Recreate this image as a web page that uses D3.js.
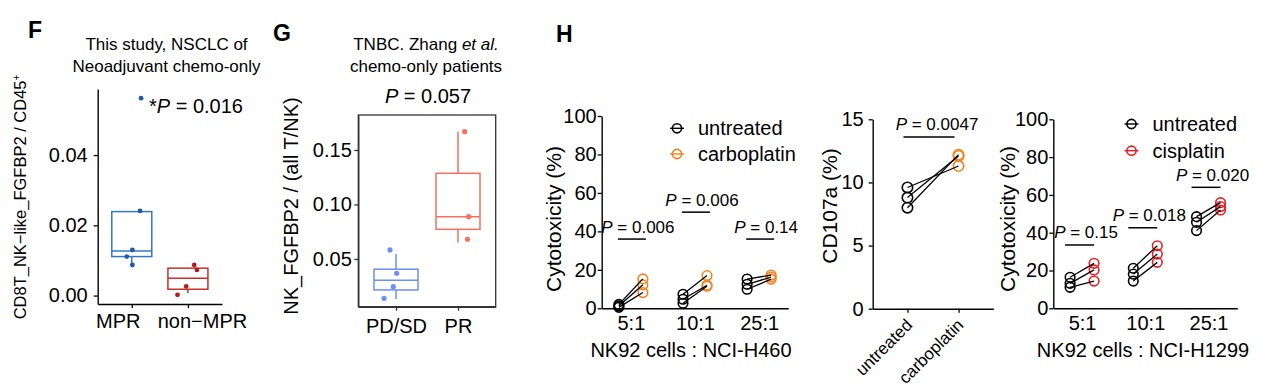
<!DOCTYPE html>
<html>
<head>
<meta charset="utf-8">
<script src="https://cdn.jsdelivr.net/npm/d3@7"></script>
<style>
  body { margin: 0; background: #fff; }
  svg { display: block; }
  text { font-family: "Liberation Sans", Arial, sans-serif; fill: #000; }
</style>
</head>
<body>
<svg width="1263" height="392"></svg>
<script>
// ---- data ----
// F: box stats are [lower whisker, Q1, median, Q3, upper whisker]
var fGroups = ['MPR', 'non\u2212MPR'];
var fBoxStats = [[0.0087, 0.0111, 0.0127, 0.0239, 0.0239], [0.0007, 0.0018, 0.0049, 0.0078, 0.0078]];
var fPoints = [[0.0241, 0.0130, 0.0111, 0.0087, 0.0562], [0.0087, 0.0073, 0.0026, 0.0002]];
var fTicks = [0, 0.02, 0.04];

// G
var gGroups = ['PD/SD', 'PR'];
var gBoxStats = [[0.0133, 0.0216, 0.0305, 0.0406, 0.0546], [0.0650, 0.0772, 0.0888, 0.1286, 0.1668]];
var gPoints = [[0.0583, 0.0369, 0.0246, 0.0139], [0.1668, 0.0888, 0.0681]];
var gTicks = [0.05, 0.10, 0.15];

// H, NCI-H460 cytotoxicity
var ratios = ['5:1', '10:1', '25:1'];
var h460Untreated = [[2.0, 1.2, 0.5], [7.3, 4.7, 2.6], [15.2, 12.5, 9.9]];
var h460Carbo = [[15.3, 12.2, 8.2], [17.0, 12.0, 11.5], [17.3, 16.2, 15.1]];
var h460P = ['0.006', '0.006', '0.14'];
var h460Bar = [36, 50, 36];

// H, CD107a
var cdGroups = ['untreated', 'carboplatin'];
var cdUntreated = [9.6, 8.8, 8.0];
var cdCarbo = [11.3, 12.1, 12.2];
var cdP = '0.0047';
var cdBar = 13.6;
var cdTicks = [0, 5, 10, 15];

// H, NCI-H1299 cytotoxicity
var h1299Untreated = [[16.4, 13.2, 11.1], [21.2, 18.1, 14.4], [48.5, 45.5, 41.1]];
var h1299Cis = [[23.8, 20.3, 14.4], [33.1, 28.7, 24.3], [55.9, 53.8, 52.0]];
var h1299P = ['0.15', '0.018', '0.020'];
var h1299Bar = [33.5, 42.6, 64];
var cytoTicks = [0, 20, 40, 60, 80, 100];

var ORANGE = '#f5821f', RED = '#ec1c24';

const svg = d3.select('svg');

function styleAxis(a, size, color) {
  a.select('.domain').attr('stroke', color || '#000').attr('stroke-width', 1.4);
  a.selectAll('.tick line').attr('stroke', color || '#000').attr('stroke-width', 1.3);
  a.selectAll('.tick text').style('font-size', size + 'px')
    .style('font-family', '"Liberation Sans", Arial, sans-serif').attr('fill', '#000');
}

function label(x, y, txt, size, opts) {
  opts = opts || {};
  var t = svg.append('text').attr('x', x).attr('y', y).text(txt)
    .style('font-size', size + 'px')
    .attr('text-anchor', opts.anchor || 'middle');
  if (opts.bold) t.style('font-weight', 'bold');
  return t;
}

function pText(x, y, prefix, val, size) {
  var t = svg.append('text').attr('x', x).attr('y', y)
    .attr('text-anchor', 'middle').style('font-size', size + 'px');
  if (prefix) t.append('tspan').text(prefix);
  t.append('tspan').style('font-style', 'italic').text('P');
  t.append('tspan').text(' = ' + val);
  return t;
}

function yTitle(x, y, txt, size) {
  return svg.append('text').attr('transform', 'translate(' + x + ',' + y + ') rotate(-90)')
    .attr('text-anchor', 'middle').style('font-size', size + 'px').text(txt);
}

function drawBox(g, cx, y, stats, pts, jit, boxCol, dotCol, w, r) {
  g.append('line').attr('x1', cx).attr('x2', cx).attr('y1', y(stats[0])).attr('y2', y(stats[1]))
    .attr('stroke', boxCol).attr('stroke-width', 1.5);
  g.append('line').attr('x1', cx).attr('x2', cx).attr('y1', y(stats[3])).attr('y2', y(stats[4]))
    .attr('stroke', boxCol).attr('stroke-width', 1.5);
  g.append('rect').attr('x', cx - w / 2).attr('width', w)
    .attr('y', y(stats[3])).attr('height', y(stats[1]) - y(stats[3]))
    .attr('fill', 'none').attr('stroke', boxCol).attr('stroke-width', 1.5);
  g.append('line').attr('x1', cx - w / 2).attr('x2', cx + w / 2)
    .attr('y1', y(stats[2])).attr('y2', y(stats[2]))
    .attr('stroke', boxCol).attr('stroke-width', 1.5);
  g.selectAll(null).data(pts).enter().append('circle')
    .attr('cx', (d, i) => cx + jit[i]).attr('cy', d => y(d))
    .attr('r', r).attr('fill', dotCol);
}

// ---------------- F ----------------
label(28, 38, 'F', 23, { anchor: 'start', bold: true });
label(166.5, 50, 'This study, NSCLC of', 17);
label(166.5, 71.5, 'Neoadjuvant chemo-only', 17);

var fx = d3.scalePoint().domain(fGroups).range([97.7, 222]).padding(0.607);
var fy = d3.scaleLinear().domain([-0.0024, 0.0588]).range([304, 89]);

var fg = svg.append('g');
var fJitter = [[8.3, 0.6, -5, 0.6, 9.3], [6.3, 9, -1.7, -10.4]];
drawBox(fg, fx(fGroups[0]), fy, fBoxStats[0], fPoints[0], fJitter[0], '#3478c8', '#1c5ca6', 40, 2.4);
drawBox(fg, fx(fGroups[1]), fy, fBoxStats[1], fPoints[1], fJitter[1], '#c8302c', '#b01c1c', 40, 2.4);

var fyAxis = svg.append('g').attr('transform', 'translate(97.7,0)')
  .call(d3.axisLeft(fy).tickValues(fTicks).tickFormat(d3.format('.2f')).tickSize(4).tickPadding(6).tickSizeOuter(0));
styleAxis(fyAxis, 20);
var fxAxis = svg.append('g').attr('transform', 'translate(0,304)')
  .call(d3.axisBottom(fx).tickSize(4).tickPadding(6).tickSizeOuter(0));
styleAxis(fxAxis, 20);
fxAxis.selectAll('.tick text').attr('dx', (d, i) => i ? 14 : -14);

pText(196, 113, '*', '0.016', 20);
var ft = svg.append('text').attr('transform', 'translate(26,197) rotate(-90)')
  .attr('text-anchor', 'middle').style('font-size', '16.5px');
ft.append('tspan').text('CD8T_NK\u2212like_FGFBP2 / CD45');
ft.append('tspan').attr('dy', -6).style('font-size', '10px').text('+');

// ---------------- G ----------------
label(273, 41, 'G', 23, { anchor: 'start', bold: true });
var gt = svg.append('text').attr('x', 426).attr('y', 50).attr('text-anchor', 'middle').style('font-size', '17px');
gt.append('tspan').text('TNBC. Zhang ');
gt.append('tspan').style('font-style', 'italic').text('et al.');
label(426, 71.5, 'chemo-only patients', 17);
pText(428, 103.3, '', '0.057', 20);

var gx = d3.scalePoint().domain(gGroups).range([358.3, 495.7]).padding(0.608);
var gy = d3.scaleLinear().domain([0.0062, 0.1821]).range([306.7, 115]);
var gg = svg.append('g');
var gJitter = [[-6, 0.7, -2.7, -12], [6.7, 10.7, 9.4]];
drawBox(gg, gx(gGroups[0]), gy, gBoxStats[0], gPoints[0], gJitter[0], '#6c8ff2', '#6c8ff2', 44, 2.6);
drawBox(gg, gx(gGroups[1]), gy, gBoxStats[1], gPoints[1], gJitter[1], '#f5705e', '#f5705e', 44, 2.6);

var gyAxis = svg.append('g').attr('transform', 'translate(358.3,0)')
  .call(d3.axisLeft(gy).tickValues(gTicks).tickFormat(d3.format('.2f')).tickSize(4).tickPadding(2.5).tickSizeOuter(0));
styleAxis(gyAxis, 20, '#333');
var gxAxis = svg.append('g').attr('transform', 'translate(0,306.7)')
  .call(d3.axisBottom(gx).tickSize(4).tickPadding(8).tickSizeOuter(0));
styleAxis(gxAxis, 20, '#333');
svg.append('rect').attr('x', 358.3).attr('y', 115).attr('width', 137.4).attr('height', 191.7)
  .attr('fill', 'none').attr('stroke', '#333').attr('stroke-width', 1.3);
yTitle(298, 206, 'NK_FGFBP2 / (all T/NK)', 20);

// ---------------- H ----------------
label(556, 42, 'H', 23, { anchor: 'start', bold: true });

function legendItem(x, y, txt, col) {
  svg.append('line').attr('x1', x - 7).attr('x2', x + 7).attr('y1', y).attr('y2', y)
    .attr('stroke', col).attr('stroke-width', 1.4);
  svg.append('circle').attr('cx', x).attr('cy', y).attr('r', 4.6)
    .attr('fill', 'none').attr('stroke', col).attr('stroke-width', 1.6);
  label(x + 21, y + 7, txt, 20, { anchor: 'start' });
}

function pairPanel(x0, x1, yTop, yBot, before, after, col, pVals, bars, barL, barR, textDx) {
  var x = d3.scalePoint().domain(ratios).range([x0, x1]).padding(0.455);
  var y = d3.scaleLinear().domain([0, 100]).range([yBot, yTop]);
  var g = svg.append('g');
  ratios.forEach(function(r, i) {
    var cx = x(r);
    before[i].forEach(function(v) {
      g.append('circle').attr('cx', cx - 12).attr('cy', y(v)).attr('r', 4.8)
        .attr('fill', 'none').attr('stroke', '#000').attr('stroke-width', 1.6);
    });
    after[i].forEach(function(v) {
      g.append('circle').attr('cx', cx + 12).attr('cy', y(v)).attr('r', 4.8)
        .attr('fill', 'none').attr('stroke', col).attr('stroke-width', 1.6);
    });
    before[i].forEach(function(v, j) {
      g.append('line').attr('x1', cx - 12).attr('x2', cx + 12)
        .attr('y1', y(v)).attr('y2', y(after[i][j]))
        .attr('stroke', '#000').attr('stroke-width', 1.3);
    });
    g.append('line').attr('x1', cx + barL).attr('x2', cx + barR)
      .attr('y1', y(bars[i])).attr('y2', y(bars[i]))
      .attr('stroke', '#000').attr('stroke-width', 1.5);
    pText(cx + textDx, y(bars[i]) - 6.5, '', pVals[i], 17);
  });
  var ya = svg.append('g').attr('transform', 'translate(' + x0 + ',0)')
    .call(d3.axisLeft(y).tickValues(cytoTicks).tickSize(4).tickPadding(1).tickSizeOuter(0));
  styleAxis(ya, 20);
  var xa = svg.append('g').attr('transform', 'translate(0,' + yBot + ')')
    .call(d3.axisBottom(x).tickSize(0).tickPadding(7.5).tickSizeOuter(0));
  styleAxis(xa, 20);
}

// NCI-H460
pairPanel(601.7, 788.3, 116, 308.3, h460Untreated, h460Carbo, ORANGE, h460P, h460Bar, -13, 15, 7);
yTitle(561, 219, 'Cytotoxicity (%)', 21);
label(691, 356.5, 'NK92 cells : NCI-H460', 20);
legendItem(677, 128.3, 'untreated', '#000');
legendItem(677, 154, 'carboplatin', ORANGE);

// CD107a
var cx2 = d3.scalePoint().domain(cdGroups).range([872.7, 993.3]).padding(0.68);
var cy2 = d3.scaleLinear().domain([0, 15]).range([308.7, 119.3]);
var cg = svg.append('g');
cdUntreated.forEach(function(v) {
  cg.append('circle').attr('cx', cx2(cdGroups[0])).attr('cy', cy2(v)).attr('r', 5.2)
    .attr('fill', 'none').attr('stroke', '#000').attr('stroke-width', 1.6);
});
cdCarbo.forEach(function(v) {
  cg.append('circle').attr('cx', cx2(cdGroups[1])).attr('cy', cy2(v)).attr('r', 5.2)
    .attr('fill', 'none').attr('stroke', ORANGE).attr('stroke-width', 1.6);
});
cdUntreated.forEach(function(v, i) {
  cg.append('line').attr('x1', cx2(cdGroups[0])).attr('x2', cx2(cdGroups[1]))
    .attr('y1', cy2(v)).attr('y2', cy2(cdCarbo[i]))
    .attr('stroke', '#000').attr('stroke-width', 1.3);
});
cg.append('line').attr('x1', cx2(cdGroups[0]) - 4).attr('x2', cx2(cdGroups[1]) - 4)
  .attr('y1', cy2(cdBar)).attr('y2', cy2(cdBar)).attr('stroke', '#000').attr('stroke-width', 1.5);
pText(937, cy2(cdBar) - 6.5, '', cdP, 17);
var ya2 = svg.append('g').attr('transform', 'translate(872.7,0)')
  .call(d3.axisLeft(cy2).tickValues(cdTicks).tickSize(4).tickPadding(5).tickSizeOuter(0));
styleAxis(ya2, 20);
var xa2 = svg.append('g').attr('transform', 'translate(0,308.7)')
  .call(d3.axisBottom(cx2).tickSize(4).tickFormat('').tickSizeOuter(0));
styleAxis(xa2, 20);
cdGroups.forEach(function(c) {
  svg.append('text').attr('transform', 'translate(' + (cx2(c) + 6) + ',326) rotate(-45)')
    .attr('text-anchor', 'end').style('font-size', '17px').text(c);
});
yTitle(837, 206, 'CD107a (%)', 21);

// NCI-H1299
pairPanel(1053.3, 1237.3, 119.3, 308.3, h1299Untreated, h1299Cis, RED, h1299P, h1299Bar, -17, 12, 4);
yTitle(1015, 219, 'Cytotoxicity (%)', 21);
label(1143, 357, 'NK92 cells : NCI-H1299', 20);
legendItem(1131.5, 124, 'untreated', '#000');
legendItem(1131.5, 150.7, 'cisplatin', RED);
</script>
</body>
</html>
